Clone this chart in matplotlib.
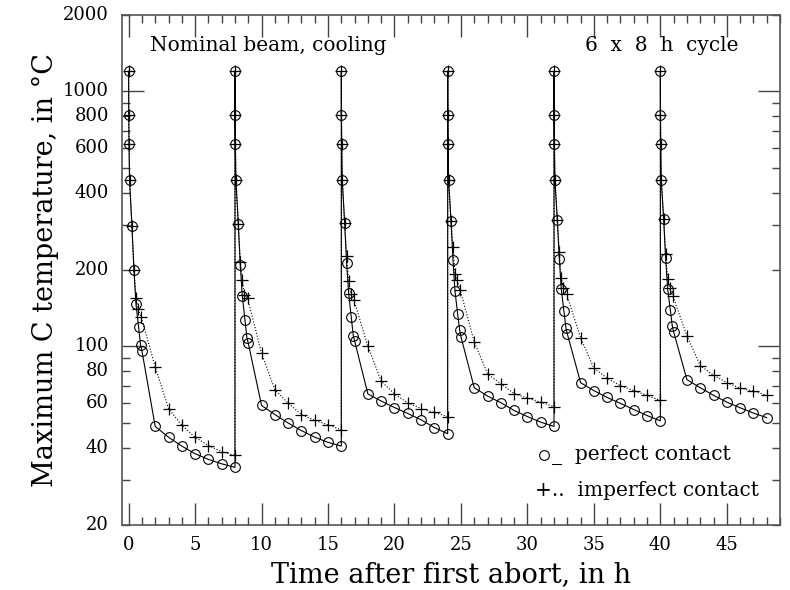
import matplotlib
matplotlib.use('Agg')
import matplotlib.pyplot as plt
from matplotlib.ticker import FixedLocator, NullFormatter, MultipleLocator

plt.rcParams['font.family'] = ['DejaVu Serif']

# cycle start times, in h
cycle_start = [0, 8, 16, 24, 32, 40]

# first points right after an abort (same for both cases)
spike_dt = [0.0, 0.01, 0.03, 0.07]
spike_T = [1200, 810, 620, 450]

# perfect contact
perf_mid_dt = [0.25, 0.4, 0.55, 0.75, 0.9, 1.0]
perf_mid_T = [
    [295, 200, 147, 119, 101, 96],
    [302, 208, 158, 127, 108, 103],
    [305, 212, 162, 130, 110, 105],
    [311, 218, 165, 134, 116, 109],
    [313, 220, 167, 137, 118, 112],
    [315, 221, 168, 139, 120, 114],
]
tail_dt = [2, 3, 4, 5, 6, 7, 8]
perf_tail_T = [
    [48.5, 44, 40.6, 37.9, 36, 34.6, 33.5],
    [58.6, 54, 50, 46.7, 44, 42, 40.6],
    [65, 61, 57.5, 54.5, 51.5, 48, 45.4],
    [68.8, 63.8, 60.1, 56, 53, 50.4, 48.5],
    [72, 67, 63, 59.7, 56.5, 53.5, 51],
    [74, 68.8, 64.2, 60.4, 57.4, 54.7, 52.5],
]

# imperfect contact
imp_mid_dt = [0.25, 0.4, 0.55, 0.7, 0.95]
imp_mid_T = [
    [295, 200, 155, 140, 130],
    [302, 215, 182, 159, 154],
    [305, 225, 180, 160, 152],
    [311, 245, 192, 182, 166],
    [313, 235, 185, 170, 160],
    [315, 231, 183, 169, 157],
]
imp_tail_T = [
    [83, 57, 49, 44, 40.8, 38.6, 37.3],
    [94, 67.6, 59.8, 54, 51.2, 49.2, 47],
    [100, 73, 65, 60, 57, 55, 53],
    [104, 78, 71.3, 65.2, 62.6, 60.4, 58],
    [108, 82, 75, 70, 67, 64.2, 61.3],
    [110, 84, 77, 72, 68.5, 66.7, 64.2],
]


def build(mid_dt, mid_T, tail_T):
    t, T = [], []
    for i, s in enumerate(cycle_start):
        dts = spike_dt + mid_dt + tail_dt
        vals = spike_T + mid_T[i] + tail_T[i]
        t += [s + d + (0.005 if i > 0 and d == 0 else 0) for d in dts]
        T += vals
    return t, T


tp, Tp = build(perf_mid_dt, perf_mid_T, perf_tail_T)
ti, Ti = build(imp_mid_dt, imp_mid_T, imp_tail_T)

fig = plt.figure(figsize=(7.9, 5.9), dpi=100)
ax = fig.add_axes([0.1544, 0.111, 0.8329, 0.8644])

ax.plot(tp, Tp, '-', color='black', lw=0.8, marker='o', mfc='none',
        mec='black', ms=7, mew=0.8)
ax.plot(ti, Ti, ':', color='black', lw=0.8, marker='+', ms=8, mew=0.9)

ax.set_yscale('log')
ax.set_xlim(-0.5, 49)
ax.set_ylim(20, 2000)

ax.yaxis.set_major_locator(FixedLocator([100, 1000]))
ax.yaxis.set_minor_locator(FixedLocator([20, 30, 40, 50, 60, 70, 80, 90,
                                         200, 300, 400, 500, 600, 700, 800, 900, 2000]))
ax.yaxis.set_major_formatter(NullFormatter())
ax.yaxis.set_minor_formatter(NullFormatter())
for v in [20, 40, 60, 80, 100, 200, 400, 600, 800, 1000, 2000]:
    ax.text(-0.02, v, str(v), transform=ax.get_yaxis_transform(),
            ha='right', va='center', fontsize=13)

ax.xaxis.set_major_locator(MultipleLocator(5))
ax.xaxis.set_minor_locator(MultipleLocator(1))
ax.tick_params(which='both', direction='in', top=True, right=True,
               color='#444444', labelsize=13)
ax.tick_params(which='major', length=16, width=1)
ax.tick_params(which='minor', length=6, width=1)
ax.tick_params(axis='x', pad=8)
for sp in ax.spines.values():
    sp.set_color('#555555')
    sp.set_linewidth(1.2)

ax.set_xlabel('Time after first abort, in h', fontsize=19.5, labelpad=5)
ax.set_ylabel('Maximum C temperature, in °C', fontsize=19.5, labelpad=42)

ax.text(0.043, 0.94, 'Nominal beam, cooling', transform=ax.transAxes,
        fontsize=14.5, va='center')
ax.text(0.703, 0.94, '6  x  8  h  cycle', transform=ax.transAxes,
        fontsize=14.5, va='center')

ax.plot([0.641], [0.137], transform=ax.transAxes, marker='o', mfc='none',
        mec='black', ms=7, mew=0.8)
ax.text(0.654, 0.137, '_  perfect contact', transform=ax.transAxes,
        fontsize=14.5, va='center')
ax.text(0.627, 0.067, '+..  imperfect contact', transform=ax.transAxes,
        fontsize=14.5, va='center')

fig.savefig('out.png', dpi=100)
